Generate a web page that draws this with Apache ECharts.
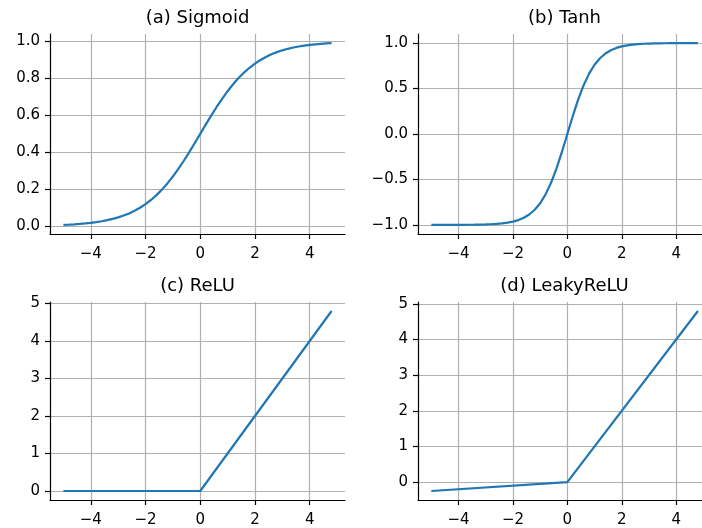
<!DOCTYPE html>
<html>
<head>
<meta charset="utf-8">
<script src="https://cdn.jsdelivr.net/npm/echarts@6/dist/echarts.min.js"></script>
<style>
html,body{margin:0;padding:0;background:#fff;}
#c{width:702px;height:528px;}
</style>
</head>
<body>
<div id="c"></div>
<script>
// ---- data ----
const xs = [-5.0,-4.8,-4.6,-4.4,-4.2,-4.0,-3.8,-3.6,-3.4,-3.2,-3.0,-2.8,-2.6,-2.4,-2.2,-2.0,-1.8,-1.6,-1.4,-1.2,-1.0,-0.8,-0.6,-0.4,-0.2,0.0,
  0.2,0.4,0.6,0.8,1.0,1.2,1.4,1.6,1.8,2.0,2.2,2.4,2.6,2.8,3.0,3.2,3.4,3.6,3.8,4.0,4.2,4.4,4.6,4.8];
const sigmoidY = [0.0067,0.0082,0.0100,0.0121,0.0148,0.0180,0.0219,0.0266,0.0323,0.0392,0.0474,0.0573,0.0691,0.0832,0.0998,0.1192,0.1419,0.1680,0.1978,0.2315,0.2689,0.3100,0.3543,0.4013,0.4502,0.5000,
  0.5498,0.5987,0.6457,0.6900,0.7311,0.7685,0.8022,0.8320,0.8581,0.8808,0.9002,0.9168,0.9309,0.9427,0.9526,0.9608,0.9677,0.9734,0.9781,0.9820,0.9852,0.9879,0.9900,0.9918];
const tanhY = [-0.9999,-0.9999,-0.9998,-0.9997,-0.9996,-0.9993,-0.9990,-0.9985,-0.9978,-0.9967,-0.9951,-0.9926,-0.9890,-0.9837,-0.9757,-0.9640,-0.9468,-0.9217,-0.8854,-0.8337,-0.7616,-0.6640,-0.5370,-0.3799,-0.1974,0.0000,
  0.1974,0.3799,0.5370,0.6640,0.7616,0.8337,0.8854,0.9217,0.9468,0.9640,0.9757,0.9837,0.9890,0.9926,0.9951,0.9967,0.9978,0.9985,0.9990,0.9993,0.9996,0.9997,0.9998,0.9999];
const reluX = [-5.0, 0.0, 4.8];
const reluY = [0.0, 0.0, 4.8];
const leakyX = [-5.0, 0.0, 4.8];
const leakyY = [-0.25, 0.0, 4.8];

const titles = ['(a) Sigmoid', '(b) Tanh', '(c) ReLU', '(d) LeakyReLU'];
const xTicks = [-4, -2, 0, 2, 4];
const yTicksSig = [0, 0.2, 0.4, 0.6, 0.8, 1.0];
const yTicksTanh = [-1.0, -0.5, 0, 0.5, 1.0];
const yTicksRelu = [0, 1, 2, 3, 4, 5];
const yTicksLeaky = [0, 1, 2, 3, 4, 5];

// ---- layout / style ----
const FONT = 'DejaVu Sans';
// right column runs past the window edge in the reference; only the visible part is laid out
const grids = [
  {left: 50, top: 34, width: 295, height: 200},
  {left: 418, top: 34, width: 284, height: 200},
  {left: 50, top: 302, width: 295, height: 200},
  {left: 418, top: 302, width: 284, height: 200}
];
const titleCenters = [197.5, 564.5, 197.5, 564.5];
const xRanges = [[-5.49, 5.29], [-5.49, 4.95], [-5.49, 5.29], [-5.49, 4.95]];
const yRanges = [[-0.0425, 1.041], [-1.1, 1.1], [-0.24, 5.04], [-0.5025, 5.0525]];
const yTickSets = [yTicksSig, yTicksTanh, yTicksRelu, yTicksLeaky];
const yFmt = [
  v => v.toFixed(1),
  v => v.toFixed(1).replace('-', '\u2212'),
  v => String(Math.round(v)).replace('-', '\u2212'),
  v => String(Math.round(v)).replace('-', '\u2212')
];
const seriesXY = [[xs, sigmoidY], [xs, tanhY], [reluX, reluY], [leakyX, leakyY]];

function zip(a, b) { return a.map((v, i) => [v, b[i]]); }

const axisCommon = {
  type: 'value',
  axisLine: {show: true, onZero: false, lineStyle: {color: '#000', width: 1.2}},
  axisTick: {show: true, length: 5, lineStyle: {color: '#000', width: 1.2}},
  splitLine: {show: true, lineStyle: {color: '#b0b0b0', width: 1.2}},
  axisLabel: {color: '#000', fontFamily: FONT, fontSize: 15}
};

const option = {
  animation: false,
  backgroundColor: '#fff',
  title: titles.map((t, i) => ({
    text: t,
    left: titleCenters[i],
    top: grids[i].top - 25,
    textAlign: 'center',
    padding: 0,
    textStyle: {fontFamily: FONT, fontSize: 18, fontWeight: 'normal', color: '#000'}
  })),
  grid: grids.map(g => Object.assign({containLabel: false}, g)),
  xAxis: grids.map((g, i) => Object.assign({}, axisCommon, {
    gridIndex: i,
    min: xRanges[i][0], max: xRanges[i][1],
    axisTick: Object.assign({}, axisCommon.axisTick, {customValues: xTicks}),
    axisLabel: Object.assign({}, axisCommon.axisLabel, {
      customValues: xTicks, margin: 13,
      formatter: v => String(v).replace('-', '\u2212')
    })
  })),
  yAxis: grids.map((g, i) => Object.assign({}, axisCommon, {
    gridIndex: i,
    min: yRanges[i][0], max: yRanges[i][1],
    axisTick: Object.assign({}, axisCommon.axisTick, {customValues: yTickSets[i]}),
    axisLabel: Object.assign({}, axisCommon.axisLabel, {
      customValues: yTickSets[i], margin: 10,
      formatter: yFmt[i]
    })
  })),
  series: seriesXY.map((s, i) => ({
    type: 'line',
    xAxisIndex: i, yAxisIndex: i,
    data: zip(s[0], s[1]),
    showSymbol: false,
    symbol: 'none',
    lineStyle: {color: '#1f77b4', width: 2.2},
    itemStyle: {color: '#1f77b4'}
  }))
};

const chart = echarts.init(document.getElementById('c'), null, {renderer: 'canvas'});
chart.setOption(option);
</script>
</body>
</html>
